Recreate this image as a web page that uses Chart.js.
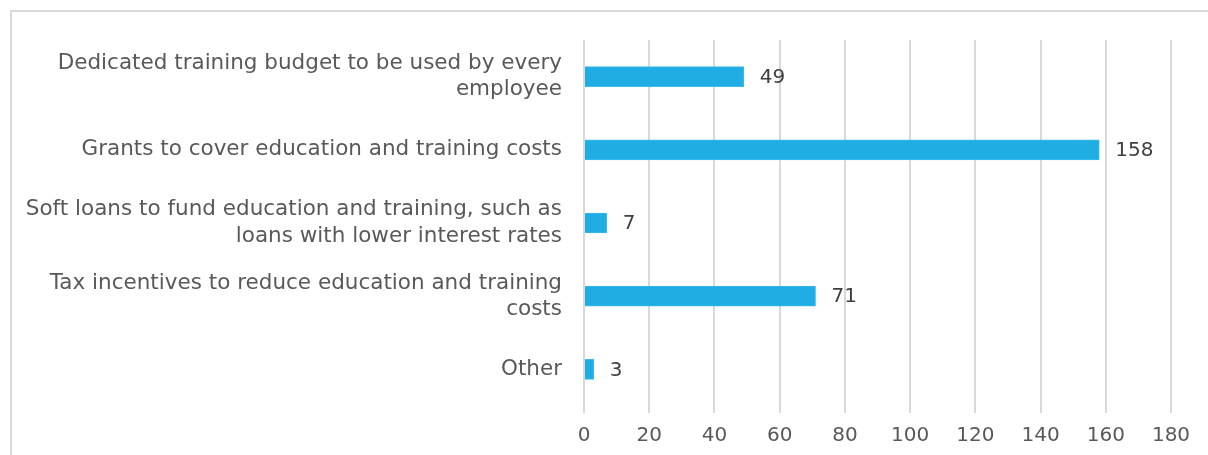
<!DOCTYPE html>
<html>
<head>
<meta charset="utf-8">
<script src="https://cdn.jsdelivr.net/npm/chart.js@4"></script>
<style>
  html, body { margin: 0; padding: 0; background: #fff; overflow: hidden; }
  #box {
    position: absolute; left: 10px; top: 10px;
    width: 1230px; height: 460px;
    border: 2px solid #d9d9d9;
  }
  #box canvas { display: block; }
</style>
</head>
<body>
<div id="box"><canvas id="myChart" width="1230" height="460"></canvas></div>
<script>
// categories (multi-line labels as in the picture)
var categories = [
  ['Dedicated training budget to be used by every', 'employee'],
  ['Grants to cover education and training costs'],
  ['Soft loans to fund education and training, such as', 'loans with lower interest rates'],
  ['Tax incentives to reduce education and training', 'costs'],
  ['Other']
];
// series values
var counts = [49, 158, 7, 71, 3];
// x axis ticks
var xMin = 0;
var xMax = 180;
var xStep = 20;

var fontFamily = 'DejaVu Sans, Verdana, sans-serif';

// draw the value next to each bar
var valueLabels = {
  id: 'valueLabels',
  afterDatasetsDraw: function(chart) {
    var ctx = chart.ctx;
    var meta = chart.getDatasetMeta(0);
    ctx.save();
    ctx.font = '20px ' + fontFamily;
    ctx.fillStyle = '#404040';
    ctx.textAlign = 'left';
    ctx.textBaseline = 'middle';
    meta.data.forEach(function(bar, i) {
      ctx.fillText(String(counts[i]), bar.x + 16, bar.y + 1);
    });
    ctx.restore();
  }
};

var ctx = document.getElementById('myChart').getContext('2d');
var myChart = new Chart(ctx, {
  type: 'bar',
  data: {
    labels: categories,
    datasets: [{
      data: counts,
      backgroundColor: '#1FADE4',
      borderColor: '#3DBBEA',
      borderWidth: 1,
      barThickness: 20
    }]
  },
  options: {
    indexAxis: 'y',
    responsive: false,
    animation: false,
    layout: { padding: { top: 28, right: 71, bottom: 0, left: 0 } },
    plugins: {
      legend: { display: false },
      tooltip: { enabled: false }
    },
    scales: {
      x: {
        min: xMin,
        max: xMax,
        ticks: {
          stepSize: xStep,
          padding: 11,
          color: '#595959',
          font: { family: fontFamily, size: 20 }
        },
        grid: { color: '#d9d9d9', lineWidth: 2, drawTicks: true, tickLength: 7 },
        border: { display: false },
        afterFit: function(scale) { scale.height = 66; }
      },
      y: {
        ticks: {
          padding: 22,
          color: '#595959',
          font: { family: fontFamily, size: 21.5, lineHeight: 1.22 }
        },
        grid: { display: false, drawTicks: false },
        border: { display: false },
        afterFit: function(scale) {
          scale.width = 572;
          scale.paddingTop = 0;
          scale.paddingBottom = 0;
        }
      }
    }
  },
  plugins: [valueLabels]
});
</script>
</body>
</html>
